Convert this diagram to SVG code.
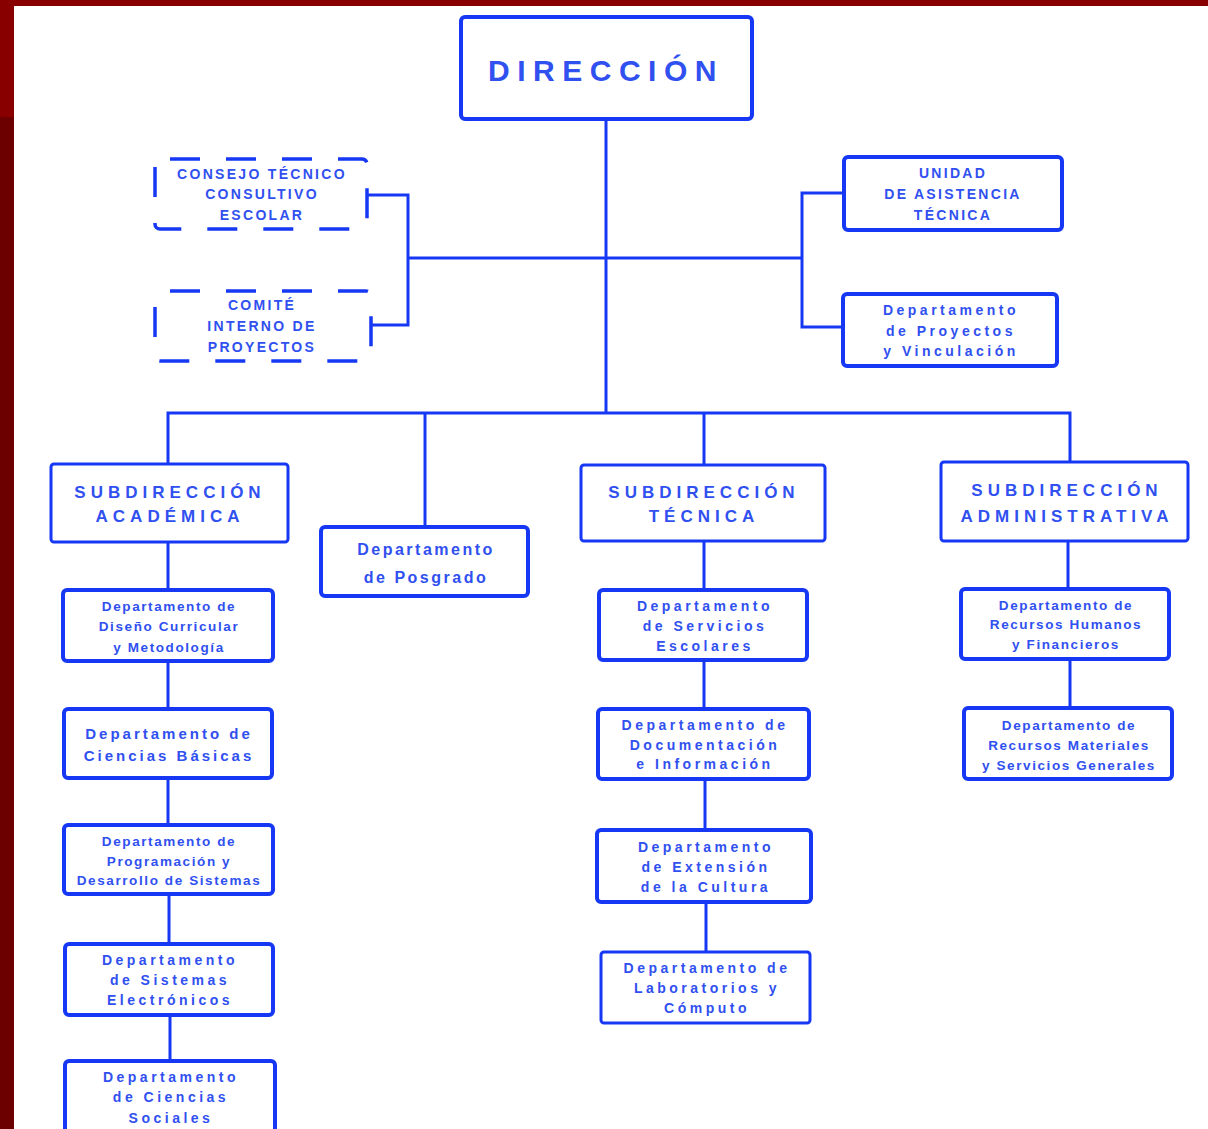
<svg xmlns="http://www.w3.org/2000/svg" width="1208" height="1129" viewBox="0 0 1208 1129">
<style>
.box{fill:#fff;stroke:#1638f5;stroke-width:4}
.sub{fill:#fff;stroke:#1638f5;stroke-width:3}
.dash{fill:none;stroke:#1638f5;stroke-width:3.5;stroke-dasharray:30 26}
.ln{stroke:#1638f5;stroke-width:3;fill:none}
text{font-family:"Liberation Sans",Arial,sans-serif;fill:#3050f0;text-anchor:middle;font-weight:bold}
.h{font-size:30px;letter-spacing:7.5px}
.s{font-size:17px;letter-spacing:5px}
.w{font-size:14px;letter-spacing:3.5px}
.c{font-size:13.5px;letter-spacing:1.6px}
.u{font-size:14px;letter-spacing:2.3px}
.p{font-size:16px;letter-spacing:2.5px}
</style>
<rect x="0" y="0" width="1208" height="1129" fill="#fff"/>
<rect x="0" y="0" width="1208" height="6" fill="#880000"/>
<rect x="0" y="0" width="14" height="117" fill="#880000"/>
<rect x="0" y="117" width="14" height="1012" fill="#6c0000"/>

<g id="connectors">
<path class="ln" d="M606 119V413"/>
<path class="ln" d="M408 258H802"/>
<path class="ln" d="M368 195H408V325H372"/>
<path class="ln" d="M844 193H802V327H843"/>
<path class="ln" d="M168 464V413H1070V462"/>
<path class="ln" d="M425 413V527"/>
<path class="ln" d="M704 413V465"/>
<path class="ln" d="M168 542V590M168 661V709M168 778V825M169 894V944M170 1015V1061"/>
<path class="ln" d="M704 541V590M704 660V709M705 779V830M706 902V952"/>
<path class="ln" d="M1068 541V589M1070 659V708"/>
</g>

<g id="direccion"><rect class="box" x="461" y="17" width="291" height="102" rx="4"/><text class="h" x="606" y="81">DIRECCIÓN</text></g>

<g id="consejo"><rect class="dash" x="155" y="159" width="212" height="70" rx="5" stroke-dashoffset="-10"/>
<text class="u" x="262" y="179">CONSEJO TÉCNICO</text><text class="u" x="262" y="199">CONSULTIVO</text><text class="u" x="262" y="220">ESCOLAR</text></g>

<g id="comite"><rect class="dash" x="155" y="291" width="216" height="70" rx="5" stroke-dashoffset="-10"/>
<text class="u" x="262" y="310">COMITÉ</text><text class="u" x="262" y="331">INTERNO DE</text><text class="u" x="262" y="352">PROYECTOS</text></g>

<g id="unidad"><rect class="box" x="844" y="157" width="218" height="73" rx="4"/>
<text class="u" x="953" y="178">UNIDAD</text><text class="u" x="953" y="199">DE ASISTENCIA</text><text class="u" x="953" y="220">TÉCNICA</text></g>

<g id="proyectos"><rect class="box" x="843" y="294" width="214" height="72" rx="4"/>
<text class="w" x="951" y="315">Departamento</text><text class="w" x="951" y="336">de Proyectos</text><text class="w" x="951" y="356">y Vinculación</text></g>

<g id="sub-academica"><rect class="sub" x="51" y="464" width="237" height="78" rx="3"/>
<text class="s" x="170" y="498">SUBDIRECCIÓN</text><text class="s" x="170" y="522">ACADÉMICA</text></g>

<g id="posgrado"><rect class="box" x="321" y="527" width="207" height="69" rx="4"/>
<text class="p" x="426" y="555">Departamento</text><text class="p" x="426" y="583">de Posgrado</text></g>

<g id="sub-tecnica"><rect class="sub" x="581" y="465" width="244" height="76" rx="3"/>
<text class="s" x="704" y="498">SUBDIRECCIÓN</text><text class="s" x="704" y="522">TÉCNICA</text></g>

<g id="sub-administrativa"><rect class="sub" x="941" y="462" width="247" height="79" rx="3"/>
<text class="s" x="1067" y="496">SUBDIRECCIÓN</text><text class="s" x="1067" y="522">ADMINISTRATIVA</text></g>

<g id="diseno"><rect class="box" x="63" y="590" width="210" height="71" rx="4"/>
<text class="c" x="169" y="611">Departamento de</text><text class="c" x="169" y="631">Diseño Curricular</text><text class="c" x="169" y="652">y Metodología</text></g>

<g id="basicas"><rect class="box" x="64" y="709" width="208" height="69" rx="4"/>
<text class="w" x="169" y="739" style="font-size:15px;letter-spacing:3px">Departamento de</text><text class="w" x="169" y="761" style="font-size:15px;letter-spacing:3px">Ciencias Básicas</text></g>

<g id="programacion"><rect class="box" x="64" y="825" width="209" height="69" rx="4"/>
<text class="c" x="169" y="846">Departamento de</text><text class="c" x="169" y="866">Programación y</text><text class="c" x="169" y="885">Desarrollo de Sistemas</text></g>

<g id="electronicos"><rect class="box" x="65" y="944" width="208" height="71" rx="4"/>
<text class="w" x="170" y="965">Departamento</text><text class="w" x="170" y="985">de Sistemas</text><text class="w" x="170" y="1005">Electrónicos</text></g>

<g id="sociales"><rect class="box" x="65" y="1061" width="210" height="80" rx="4"/>
<text class="w" x="171" y="1082">Departamento</text><text class="w" x="171" y="1102">de Ciencias</text><text class="w" x="171" y="1123">Sociales</text></g>

<g id="escolares"><rect class="box" x="599" y="590" width="208" height="70" rx="4"/>
<text class="w" x="705" y="611">Departamento</text><text class="w" x="705" y="631">de Servicios</text><text class="w" x="705" y="651">Escolares</text></g>

<g id="documentacion"><rect class="box" x="598" y="709" width="211" height="70" rx="4"/>
<text class="w" x="705" y="730">Departamento de</text><text class="w" x="705" y="750">Documentación</text><text class="w" x="705" y="769">e Información</text></g>

<g id="extension"><rect class="box" x="597" y="830" width="214" height="72" rx="4"/>
<text class="w" x="706" y="852">Departamento</text><text class="w" x="706" y="872">de Extensión</text><text class="w" x="706" y="892">de la Cultura</text></g>

<g id="laboratorios"><rect class="sub" x="601" y="952" width="209" height="71" rx="3"/>
<text class="w" x="707" y="973">Departamento de</text><text class="w" x="707" y="993">Laboratorios y</text><text class="w" x="707" y="1013">Cómputo</text></g>

<g id="humanos"><rect class="box" x="961" y="589" width="208" height="70" rx="4"/>
<text class="c" x="1066" y="610">Departamento de</text><text class="c" x="1066" y="629">Recursos Humanos</text><text class="c" x="1066" y="649">y Financieros</text></g>

<g id="materiales"><rect class="box" x="964" y="708" width="208" height="71" rx="4"/>
<text class="c" x="1069" y="730">Departamento de</text><text class="c" x="1069" y="750">Recursos Materiales</text><text class="c" x="1069" y="770">y Servicios Generales</text></g>
</svg>
